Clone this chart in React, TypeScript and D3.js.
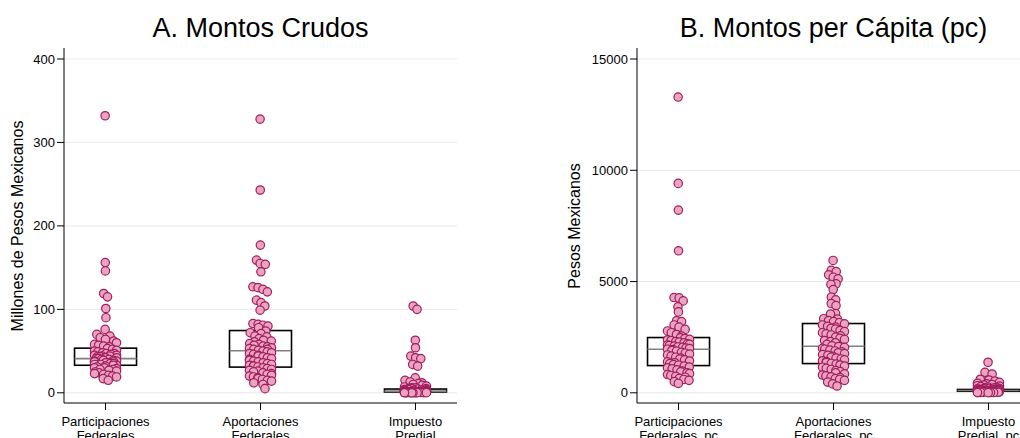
import React, { useMemo } from "react";
import * as d3 from "d3";

// Gráfica de montos crudos y per cápita por municipio (puntos con jitter + caja)

const W = 1020;
const H = 438;

const titles = ["A. Montos Crudos", "B. Montos per Cápita (pc)"];
const yLabels = ["Millones de Pesos Mexicanos", "Pesos Mexicanos"];
const categoriesA = ["Participaciones|Federales", "Aportaciones|Federales", "Impuesto|Predial"];
const categoriesB = ["Participaciones|Federales, pc", "Aportaciones|Federales, pc", "Impuesto|Predial, pc"];
const ticksA = [0, 100, 200, 300, 400];
const ticksB = [0, 5000, 10000, 15000];

// millones de pesos
const participaciones = [
  332, 156, 146, 119, 115, 101, 90, 76, 70, 68, 66, 64, 62, 60, 58, 57, 56, 55,
  53, 52, 51, 50, 49, 48, 47, 47, 46, 45, 45, 44, 44, 43, 43, 42, 42, 41,
  41, 40, 40, 39, 39, 38, 38, 37, 37, 36, 36, 35, 35, 34, 34, 34, 33, 33,
  32, 31, 30, 30, 29, 28, 28, 27, 26, 25, 24, 23, 22, 21, 20, 19, 17, 15,
];
const aportaciones = [
  328, 243, 177, 159, 155, 154, 145, 127, 126, 124, 121, 111, 108, 104, 99, 83, 82, 81, 80, 78,
  74, 72, 71, 68, 67, 65, 63, 62, 61, 59, 58, 57, 56, 55, 54, 53, 52, 52, 51, 50,
  49, 48, 47, 46, 45, 44, 43, 42, 41, 40, 39, 38, 37, 36, 35, 34, 33, 32, 32, 31,
  30, 29, 28, 27, 26, 25, 24, 23, 22, 21, 20, 19, 18, 17, 16, 15, 14, 12, 10, 5,
];
const predial = [
  104, 100, 63, 54, 44, 42, 41, 34, 32, 18, 15, 13, 12, 11, 10, 9, 8, 7, 6, 6, 5, 5, 5, 4.6,
  4.4, 4.1, 4, 3.7, 3.5, 3.1, 3, 2.8, 2.5, 2.4, 2.2, 2.1,
  2, 1.9, 1.8, 1.7, 1.6, 1.5, 1.4, 1.3, 1.2, 1.1, 1.05, 1,
  0.95, 0.9, 0.85, 0.8, 0.7, 0.7, 0.6, 0.6, 0.55, 0.5, 0.45, 0.4, 0.35, 0.3, 0.3, 0.25,
  0.22, 0.2, 0.18, 0.15, 0.12, 0.1, 0.08, 0.05,
];

// pesos per cápita
const participacionesPc = [
  13290, 9410, 8210, 6380, 4280, 4265, 4130, 3860, 3635, 3230, 3200, 3050, 2950, 2850, 2780, 2700, 2620, 2550,
  2470, 2440, 2400, 2380, 2350, 2300, 2280, 2250, 2200, 2180, 2150, 2120, 2100, 2060, 2040, 2010, 1990, 1960,
  1940, 1900, 1870, 1820, 1780, 1740, 1700, 1650, 1600, 1560, 1510, 1480, 1430, 1390, 1350, 1310, 1270, 1240,
  1200, 1160, 1120, 1080, 1030, 980, 940, 900, 860, 820, 780, 740, 700, 650, 600, 560, 500, 420,
];
const aportacionesPc = [
  5947, 5500, 5450, 5300, 5195, 5120, 4895, 4870, 4640, 4295, 4175, 4010, 3920, 3560, 3540, 3330, 3310, 3250, 3200, 3150,
  3100, 3050, 2990, 2950, 2900, 2860, 2800, 2750, 2700, 2650, 2600, 2560, 2500, 2450, 2400, 2350, 2300, 2250, 2180, 2110,
  2080, 2040, 2000, 1960, 1920, 1880, 1840, 1800, 1760, 1720, 1680, 1640, 1600, 1560, 1520, 1480, 1440, 1400, 1360, 1320,
  1290, 1250, 1200, 1150, 1100, 1050, 1000, 950, 900, 850, 800, 760, 720, 680, 640, 600, 560, 480, 400, 306,
];
const predialPc = [
  1372, 922, 845, 610, 575, 530, 470, 430, 400, 370, 345, 320, 300, 280, 262, 245, 230, 215, 200, 190,
  180, 172, 165, 158, 150, 145, 140, 135, 130, 125, 120, 115, 112, 108, 105, 102, 98, 95, 90, 86,
  82, 78, 74, 70, 66, 62, 58, 54, 50, 45, 40, 36, 32, 28, 24, 20, 16, 12, 8, 4,
];

// [q1, mediana, q3]
const boxA = [[33, 41, 53.5], [30.8, 50.3, 74.6], [1, 2, 4.5]];
const boxB = [[1223, 1957, 2483], [1313, 2092, 3113], [70, 105, 150]];

const FONT = "'Liberation Sans', Arial, Helvetica, sans-serif";
const FILL = "#eba4c0";
const STROKE = "#a01d5e";
const R = 4.2;

interface Node {
  v: number;
  x: number;
  y: number;
  ty: number;
}

function swarm(values: number[], cx: number, y: d3.ScaleLinear<number, number>, spread: number): Node[] {
  const nodes: Node[] = values.map((v, i) => ({ v, x: cx + ((i % 7) - 3) * 2, y: y(v), ty: y(v) }));
  const sim = d3
    .forceSimulation(nodes as any)
    .force("x", d3.forceX(cx).strength(0.04))
    .force("y", d3.forceY((d: any) => d.ty).strength(0.9))
    .force("c", d3.forceCollide(2.6))
    .stop();
  for (let i = 0; i < 160; i++) {
    sim.tick();
    nodes.forEach((n) => {
      n.x = Math.max(cx - spread, Math.min(cx + spread, n.x));
    });
  }
  return nodes;
}

const panels = [
  {
    title: titles[0],
    yLabel: yLabels[0],
    categories: categoriesA,
    ticks: ticksA,
    groups: [participaciones, aportaciones, predial],
    boxes: boxA,
    domain: [0, 400],
    left: 64,
    right: 457,
    labelX: 23,
  },
  {
    title: titles[1],
    yLabel: yLabels[1],
    categories: categoriesB,
    ticks: ticksB,
    groups: [participacionesPc, aportacionesPc, predialPc],
    boxes: boxB,
    domain: [0, 15000],
    left: 637,
    right: 1030,
    labelX: 580,
  },
];

const Panel: React.FC<{ p: (typeof panels)[number] }> = ({ p }) => {
  const top = 48;
  const bottom = 403;
  const y = d3.scaleLinear().domain(p.domain).range([392.8, 59]);
  const x = d3.scalePoint<string>().domain(p.categories).range([p.left, p.right]).padding(0.268);

  const swarms = useMemo(
    () => p.groups.map((g, i) => swarm(g, x(p.categories[i]) as number, y, 11)),
    [p]
  );

  return (
    <g fontFamily={FONT}>
      <text x={(p.left + p.right) / 2} y={37} textAnchor="middle" fontSize={27} fill="#000">
        {p.title}
      </text>
      <text
        transform={`translate(${p.labelX}, 226) rotate(-90)`}
        textAnchor="middle"
        fontSize={16}
        fill="#000"
      >
        {p.yLabel}
      </text>

      {/* rejilla */}
      {p.ticks.map((t) => (
        <line key={`g${t}`} x1={p.left} x2={p.right} y1={y(t)} y2={y(t)} stroke="#e9e9e9" strokeWidth={1} />
      ))}

      {/* eje y */}
      <line x1={p.left} x2={p.left} y1={top} y2={bottom} stroke="#000" strokeWidth={1} />
      {p.ticks.map((t) => (
        <g key={`t${t}`}>
          <line x1={p.left - 7} x2={p.left} y1={y(t)} y2={y(t)} stroke="#000" strokeWidth={1} />
          <text x={p.left - 9} y={y(t)} dy="0.35em" textAnchor="end" fontSize={13} fill="#000">
            {t}
          </text>
        </g>
      ))}

      {/* eje x */}
      <line x1={p.left} x2={p.right} y1={bottom} y2={bottom} stroke="#000" strokeWidth={1} />
      {p.categories.map((c) => {
        const cx = x(c) as number;
        const [l1, l2] = c.split("|");
        return (
          <g key={c}>
            <line x1={cx} x2={cx} y1={bottom} y2={bottom + 7} stroke="#000" strokeWidth={1} />
            <text x={cx} y={426} textAnchor="middle" fontSize={13} fill="#000">
              <tspan x={cx}>{l1}</tspan>
              <tspan x={cx} dy={14}>
                {l2}
              </tspan>
            </text>
          </g>
        );
      })}

      {/* cajas */}
      {p.boxes.map(([q1, med, q3], i) => {
        const cx = x(p.categories[i]) as number;
        return (
          <g key={`b${i}`}>
            <rect
              x={cx - 31}
              y={y(q3)}
              width={62}
              height={Math.max(0.5, y(q1) - y(q3))}
              fill="none"
              stroke="#000"
              strokeWidth={1.6}
            />
            <line x1={cx - 31} x2={cx + 31} y1={y(med)} y2={y(med)} stroke="#808080" strokeWidth={1.6} />
          </g>
        );
      })}

      {/* puntos */}
      {swarms.map((nodes, i) =>
        nodes.map((n, j) => (
          <circle key={`p${i}-${j}`} cx={n.x} cy={n.ty} r={R} fill={FILL} stroke={STROKE} strokeWidth={1.2} />
        ))
      )}
    </g>
  );
};

export default function App() {
  return (
    <svg
      width={W}
      height={H}
      viewBox={`0 0 ${W} ${H}`}
      style={{ position: "absolute", left: 0, top: 0, background: "#fff", display: "block" }}
    >
      <rect width={W} height={H} fill="#fff" />
      {panels.map((p, i) => (
        <Panel key={i} p={p} />
      ))}
    </svg>
  );
}
